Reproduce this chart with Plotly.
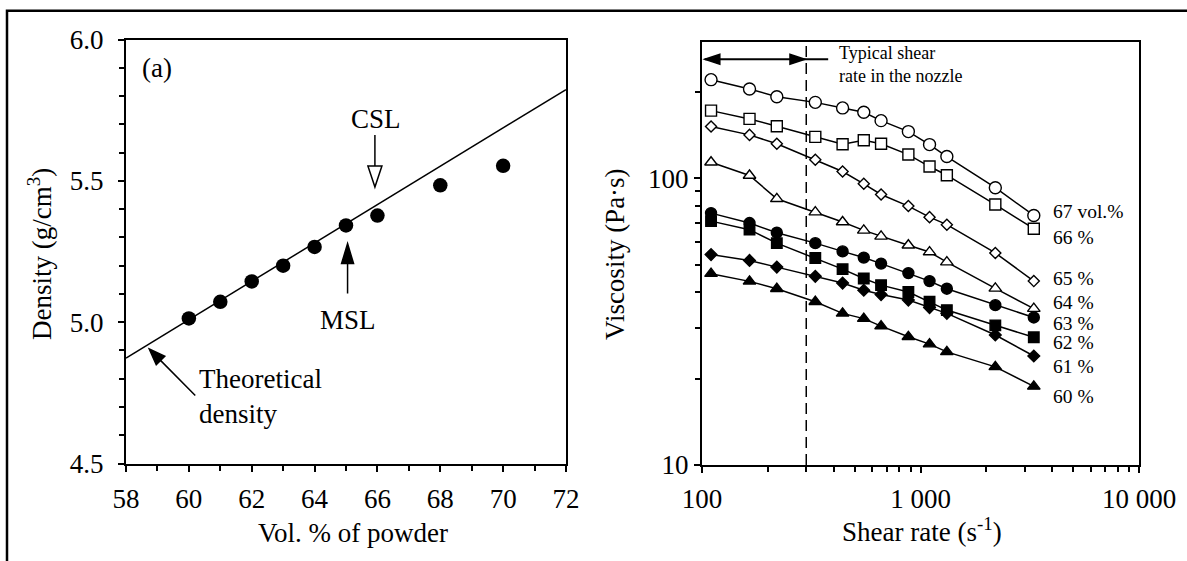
import numpy as np
import plotly.graph_objects as go

# ---------------- data ----------------
vol_pct = [60, 61, 62, 63, 64, 65, 66, 68, 70]
density = [5.013, 5.072, 5.144, 5.200, 5.266, 5.342, 5.377, 5.484, 5.553]
theo_x = [58, 72]
theo_y = [4.873, 5.823]

shear = [110, 165, 220, 330, 440, 550, 660, 880, 1100, 1320, 2200, 3300]
visc_67 = [220.8, 204.8, 192.6, 184.0, 176.0, 169.9, 158.9, 145.5, 131.1, 119.1, 92.7, 74.2]
visc_66 = [172.2, 161.1, 151.8, 139.5, 131.4, 135.7, 131.9, 121.0, 109.9, 102.5, 81.0, 66.7]
visc_65 = [151.5, 141.7, 131.9, 116.0, 105.6, 95.7, 87.8, 80.0, 73.2, 68.9, 54.9, 43.8]
visc_64 = [113.8, 102.3, 84.8, 76.2, 70.4, 65.8, 62.7, 58.4, 55.3, 51.0, 41.3, 35.1]
visc_63 = [75.6, 69.8, 64.6, 59.4, 55.6, 52.9, 50.4, 46.7, 43.8, 41.2, 36.1, 32.7]
visc_62 = [70.9, 66.2, 59.4, 52.7, 48.2, 44.7, 42.4, 40.1, 37.1, 34.7, 30.7, 27.9]
visc_61 = [54.2, 51.7, 49.0, 45.5, 43.1, 40.7, 39.3, 37.6, 35.4, 33.8, 28.4, 24.0]
visc_60 = [46.5, 43.7, 41.2, 37.1, 33.8, 32.4, 30.5, 28.0, 26.4, 24.8, 22.0, 18.8]
series_labels = ["67 vol.%", "66 %", "65 %", "64 %", "63 %", "62 %", "61 %", "60 %"]
label_y = [76.6, 62.4, 44.7, 36.8, 31.2, 26.8, 22.0, 17.3]
nozzle_rate = 300

# ---------------- layout geometry ----------------
W, H = 1187, 561
FONT = "Liberation Serif"
LX = [126 / W, 566 / W]
LY = [1 - 463.5 / H, 1 - 39.5 / H]
RX = [702 / W, 1139 / W]
RY = [1 - 465 / H, 1 - 41.5 / H]
RXR = [2, 4]
RYR = [1, np.log10(300)]

fig = go.Figure()

# left panel
fig.add_trace(go.Scatter(x=theo_x, y=theo_y, mode="lines",
                         line=dict(color="black", width=1.5),
                         xaxis="x", yaxis="y", showlegend=False, hoverinfo="skip"))
fig.add_trace(go.Scatter(x=vol_pct, y=density, mode="markers",
                         marker=dict(symbol="circle", size=14.5, color="black"),
                         xaxis="x", yaxis="y", showlegend=False))

# right panel
styles = [
    (visc_67, "circle", 12, "white"),
    (visc_66, "square", 11, "white"),
    (visc_65, "diamond", 8.5, "white"),
    (visc_64, "triangle-up", 11, "white"),
    (visc_63, "circle", 11, "black"),
    (visc_62, "square", 10.5, "black"),
    (visc_61, "diamond", 9, "black"),
    (visc_60, "triangle-up", 11, "black"),
]
for vals, sym, sz, fillc in styles:
    fig.add_trace(go.Scatter(
        x=shear, y=vals, mode="lines+markers",
        line=dict(color="black", width=1.5),
        marker=dict(symbol=sym, size=sz, color=fillc,
                    line=dict(color="black", width=1.4)),
        xaxis="x2", yaxis="y2", showlegend=False))

# dashed nozzle line and double-arrow shaft
fig.add_trace(go.Scatter(x=[nozzle_rate, nozzle_rate], y=[10, 300], mode="lines",
                         line=dict(color="black", width=1.5, dash="11px,6px"),
                         xaxis="x2", yaxis="y2", showlegend=False, hoverinfo="skip"))
ARROW_Y = 260
fig.add_trace(go.Scatter(x=[103, 378], y=[ARROW_Y, ARROW_Y], mode="lines",
                         line=dict(color="black", width=2),
                         xaxis="x2", yaxis="y2", showlegend=False, hoverinfo="skip"))


def r_paper(xv, yv):
    px = RX[0] + (np.log10(xv) - RXR[0]) / (RXR[1] - RXR[0]) * (RX[1] - RX[0])
    py = RY[0] + (np.log10(yv) - RYR[0]) / (RYR[1] - RYR[0]) * (RY[1] - RY[0])
    return px, py


def arrow_path(dx, dy, head_len, half_w, shaft=True):
    """tip at (0,0), tail at (dx,dy) pixels (y up)."""
    L = np.hypot(dx, dy)
    ux, uy = dx / L, dy / L
    bx, by = ux * head_len, uy * head_len
    px, py = -uy * half_w, ux * half_w
    p = f"M0,0 L{bx+px:.2f},{by+py:.2f} L{bx-px:.2f},{by-py:.2f} Z"
    if shaft:
        p += f" M{bx:.2f},{by:.2f} L{dx:.2f},{dy:.2f}"
    return p


shapes = []
# outer frame (left and top edges)
shapes.append(dict(type="path", xref="paper", yref="paper",
                   path=f"M{7/W:.5f},0 L{7/W:.5f},{1-10.7/H:.5f} L1,{1-10.7/H:.5f}",
                   line=dict(color="black", width=2.5)))


def px_shape(xref, yref, xa, ya, path, fill):
    return dict(type="path", xref=xref, yref=yref, xsizemode="pixel", ysizemode="pixel",
                xanchor=xa, yanchor=ya, path=path, fillcolor=fill,
                line=dict(color="black", width=1.5))


# CSL hollow arrow (tip at 65.92, 5.478)
shapes.append(px_shape("x", "y", 65.92, 5.478, arrow_path(0, 52, 21, 7), "white"))
# MSL solid arrow (tip at 65.05, 5.278)
shapes.append(px_shape("x", "y", 65.05, 5.278, arrow_path(0, -50, 20, 6), "black"))
# theoretical density arrow
shapes.append(px_shape("x", "y", 58.74, 4.905, arrow_path(46, -46.5, 16, 6), "black"))
# double arrow heads on right panel
lx, ly = r_paper(103, ARROW_Y)
rx, ry = r_paper(296, ARROW_Y)
shapes.append(px_shape("paper", "paper", lx, ly, arrow_path(15, 0, 15, 5, shaft=False), "black"))
shapes.append(px_shape("paper", "paper", rx, ry, arrow_path(-15, 0, 15, 5, shaft=False), "black"))

C = dict(showarrow=False, xanchor="center", yanchor="middle")
annotations = [
    dict(text="(a)", x=58.99, y=5.90, xref="x", yref="y", font=dict(size=27), **C),
    dict(text="CSL", x=65.95, y=5.718, xref="x", yref="y", font=dict(size=27), **C),
    dict(text="MSL", x=65.06, y=5.007, xref="x", yref="y", font=dict(size=27), **C),
    dict(text="Theoretical<br>density", x=60.26, y=4.738, xref="x", yref="y", showarrow=False,
         xanchor="left", yanchor="middle", align="left", font=dict(size=27)),
    dict(text="Typical shear<br>rate in the nozzle", x=2.6165, y=np.log10(249), xref="x2", yref="y2",
         showarrow=False, xanchor="left", yanchor="middle", align="left", font=dict(size=18)),
    dict(text="Vol. % of powder", x=353 / W, y=1 - 533 / H, xref="paper", yref="paper",
         font=dict(size=27), **C),
    dict(text="Shear rate (s<sup>-1</sup>)", x=922 / W, y=1 - 530 / H, xref="paper", yref="paper",
         font=dict(size=27), **C),
    dict(text="Density (g/cm<sup>3</sup>)", x=40 / W, y=1 - 254 / H, xref="paper", yref="paper",
         textangle=-90, font=dict(size=27), **C),
    dict(text="Viscosity (Pa·s)", x=615 / W, y=1 - 254 / H, xref="paper", yref="paper",
         textangle=-90, font=dict(size=27), **C),
]
for lab, yv in zip(series_labels, label_y):
    annotations.append(dict(text=lab, x=3.596, y=np.log10(yv), xref="x2", yref="y2",
                            showarrow=False, xanchor="left", yanchor="middle", font=dict(size=19.5)))

axis_common = dict(showline=True, linecolor="black", linewidth=2, mirror=True,
                   ticks="outside", ticklen=6, tickwidth=1.5, tickcolor="black",
                   showgrid=False, zeroline=False, automargin=False,
                   tickfont=dict(size=27, color="black"))
minor_common = dict(ticks="outside", ticklen=5, tickwidth=1.5, tickcolor="black")

fig.update_layout(
    template="none",
    width=W, height=H, margin=dict(l=0, r=0, t=0, b=0, autoexpand=False),
    paper_bgcolor="white", plot_bgcolor="white",
    font=dict(family=FONT, color="black"),
    showlegend=False,
    xaxis=dict(domain=LX, anchor="y", range=[58, 72], dtick=2, tick0=58,
               ticklabelstandoff=4, minor=dict(dtick=1, **minor_common), **axis_common),
    yaxis=dict(domain=LY, anchor="x", range=[4.5, 6.0], dtick=0.5, tickformat=".1f",
               ticklabelstandoff=9, minor=dict(dtick=0.1, **minor_common), **axis_common),
    xaxis2=dict(domain=RX, anchor="y2", type="log", range=RXR,
                tickvals=[100, 1000, 10000], ticktext=["100", "1 000", "10 000"],
                ticklabelstandoff=3,
                minor=dict(tickvals=[200, 300, 400, 500, 600, 700, 800, 900,
                                     2000, 3000, 4000, 5000, 6000, 7000, 8000, 9000],
                           **minor_common),
                **axis_common),
    yaxis2=dict(domain=RY, anchor="x2", type="log", range=RYR,
                tickvals=[10, 100], ticktext=["10", "100"],
                minor=dict(tickvals=[20, 30, 40, 50, 60, 70, 80, 90, 200], **minor_common),
                **axis_common),
    shapes=shapes,
    annotations=annotations,
)

fig.write_html("out.html", config={"displayModeBar": False},
               post_script="document.body.style.margin='0px';document.body.style.overflow='hidden';")
